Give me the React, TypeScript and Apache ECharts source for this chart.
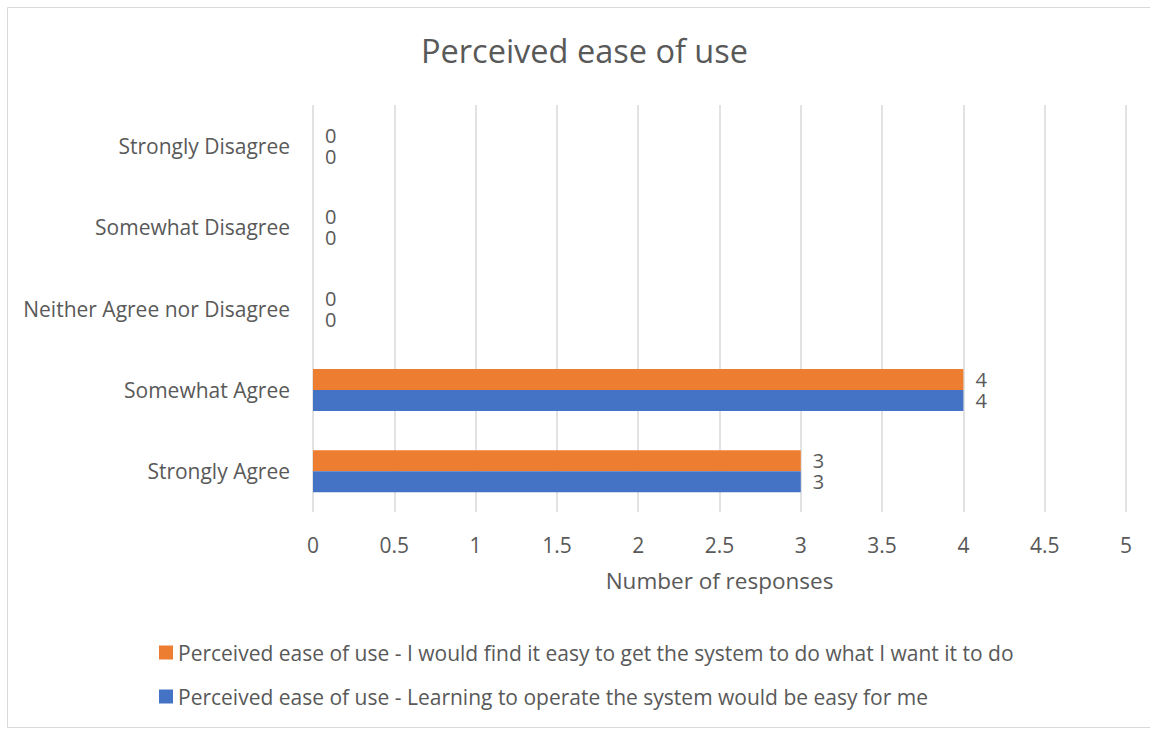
import React, { useEffect, useRef } from "react";
import * as echarts from "echarts";

const categories = [
  "Strongly Agree",
  "Somewhat Agree",
  "Neither Agree nor Disagree",
  "Somewhat Disagree",
  "Strongly Disagree",
];
const seriesLearning = [3, 4, 0, 0, 0];
const seriesEasy = [3, 4, 0, 0, 0];
const nameLearning = "Perceived ease of use - Learning to operate the system would be easy for me";
const nameEasy = "Perceived ease of use - I would find it easy to get the system to do what I want it to do";

const FONT = "'Open Sans', sans-serif";
const TXT = "#595959";

export default function App() {
  const ref = useRef<HTMLDivElement>(null);
  useEffect(() => {
    document.body.style.margin = "0";
    const chart = echarts.init(ref.current!, undefined, { renderer: "svg" });
    const dataLabel = {
      show: true,
      position: "right",
      distance: 12,
      fontFamily: FONT,
      fontSize: 20,
      lineHeight: 19,
      color: TXT,
    };
    chart.setOption({
      animation: false,
      backgroundColor: "#ffffff",
      textStyle: { fontFamily: FONT },
      title: {
        text: "Perceived ease of use",
        left: 416,
        top: 29,
        textStyle: { fontFamily: FONT, fontSize: 32.5, fontWeight: "normal", color: TXT },
      },
      graphic: [
        {
          type: "rect",
          shape: { x: 7.5, y: 7.5, width: 1150, height: 720 },
          style: { fill: "none", stroke: "#d9d9d9", lineWidth: 1 },
          silent: true,
        },
      ],
      legend: {
        orient: "vertical",
        left: 154,
        top: 637,
        itemWidth: 14,
        itemHeight: 14,
        itemGap: 23,
        icon: "rect",
        data: [nameEasy, nameLearning],
        textStyle: { fontFamily: FONT, fontSize: 21, lineHeight: 20, color: TXT },
      },
      grid: { left: 313, right: 24, top: 105, bottom: 218, containLabel: false },
      xAxis: {
        type: "value",
        min: 0,
        max: 5,
        interval: 0.5,
        name: "Number of responses",
        nameLocation: "middle",
        nameGap: 57,
        nameTextStyle: { fontFamily: FONT, fontSize: 22.5, color: TXT },
        axisLine: { show: false },
        axisTick: { show: false },
        axisLabel: { fontFamily: FONT, fontSize: 21, color: TXT, margin: 22 },
        splitLine: { show: true, lineStyle: { color: "#d9d9d9", width: 1.5 } },
      },
      yAxis: {
        type: "category",
        data: categories,
        axisLine: { show: false },
        axisTick: { show: false },
        axisLabel: { fontFamily: FONT, fontSize: 21, color: TXT, margin: 23 },
        splitLine: { show: false },
      },
      series: [
        {
          name: nameEasy,
          type: "bar",
          data: seriesEasy,
          barWidth: 21,
          barGap: "0%",
          itemStyle: { color: "#ED7D31" },
          label: dataLabel,
        },
        {
          name: nameLearning,
          type: "bar",
          data: seriesLearning,
          barWidth: 21,
          barGap: "0%",
          itemStyle: { color: "#4472C4" },
          label: dataLabel,
        },
      ],
    });
    return () => chart.dispose();
  }, []);
  return <div ref={ref} style={{ width: 1150, height: 730 }} />;
}
